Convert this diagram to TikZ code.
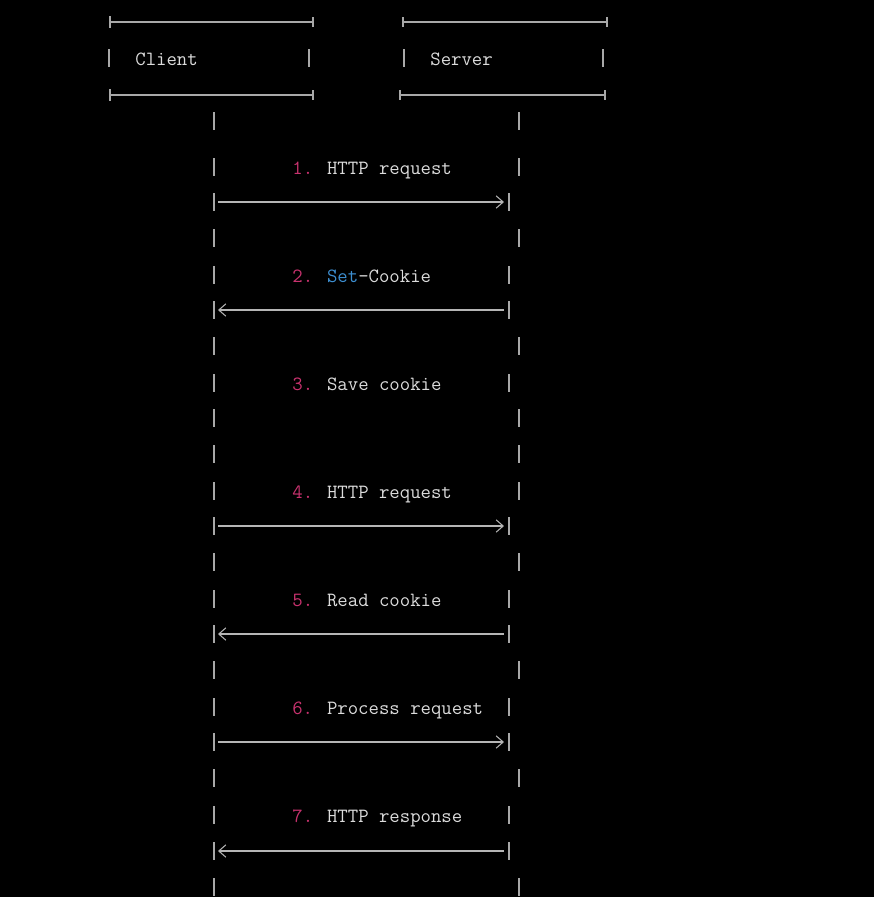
\documentclass[tikz,border=0pt]{standalone}
\usetikzlibrary{arrows.meta, positioning}

\definecolor{termbg}{HTML}{000000}
\definecolor{termtext}{HTML}{DCDCDC}
\definecolor{termline}{HTML}{A8A8A8}
\definecolor{stepred}{HTML}{C8326E}
\definecolor{keyblue}{HTML}{3D8FD1}

\tikzset{
  vbar/.style={draw=termline, line width=0.8pt},
  hrule/.style={draw=termline, line width=0.6pt},
  msg/.style={draw=termline!85, line width=0.6pt, -{Straight Barb[length=4pt, width=7pt]}},
  termlabel/.style={text=termtext, font=\ttfamily\fontsize{11.5}{13}\selectfont, anchor=base west, inner sep=0pt},
}
\newcommand{\stepno}[1]{\textcolor{stepred}{#1.}}

\begin{document}
\begin{tikzpicture}[x=0.02cm, y=-0.02cm]
		% Background
		\fill[termbg] (0,0) rectangle (874,897);
		\useasboundingbox (0,0) rectangle (874,897);
		
		% Header boxes
		\draw[hrule] (110,22) -- (313,22);
		\draw[hrule] (110,95) -- (313,95);
		\draw[hrule] (403,22) -- (607,22);
		\draw[hrule] (400,95) -- (605,95);
		\draw[hrule, line width=0.9pt] (110,16) -- (110,28);
		\draw[hrule, line width=0.9pt] (110,89) -- (110,101);
		\foreach \x/\y in {313/22, 313/95, 403/22, 607/22, 400/95, 605/95}
			\draw[hrule] (\x,\y-5) -- (\x,\y+5);
		\foreach \x in {109, 309, 404, 603}
			\draw[vbar] (\x,49) -- (\x,67);
		\node[termlabel] (client) at (135,65) {Client};
		\node[termlabel] (server) at (430,65) {Server};
		
		% Lifelines
		\foreach \y in {121,167,202,238,275,310,346,383,418,454,491,526,562,599,634,670,707,742,778,815,851,887}
			\draw[vbar] (214,\y-9) -- (214,\y+9);
		\foreach \y in {121,167,238,346,418,454,491,562,670,778,887}
			\draw[vbar] (519,\y-9) -- (519,\y+9);
		\foreach \y in {202,275,310,383,526,599,634,707,742,815,851}
			\draw[vbar] (509,\y-9) -- (509,\y+9);
		
		% Steps
		\node[termlabel] (step1) at (292,174) {\stepno{1} HTTP request};
		\node[termlabel] (step2) at (292,282) {\stepno{2} \textcolor{keyblue}{Set}-Cookie};
		\node[termlabel] (step3) at (292,390) {\stepno{3} Save cookie};
		\node[termlabel] (step4) at (292,498) {\stepno{4} HTTP request};
		\node[termlabel] (step5) at (292,606) {\stepno{5} Read cookie};
		\node[termlabel] (step6) at (292,714) {\stepno{6} Process request};
		\node[termlabel] (step7) at (292,822) {\stepno{7} HTTP response};
		
		% Message ends
		\coordinate (c1) at (218,202); \coordinate (s1) at (504,202);
		\coordinate (c2) at (218,310); \coordinate (s2) at (504,310);
		\coordinate (c4) at (218,526); \coordinate (s4) at (504,526);
		\coordinate (c5) at (218,634); \coordinate (s5) at (504,634);
		\coordinate (c6) at (218,742); \coordinate (s6) at (504,742);
		\coordinate (c7) at (218,851); \coordinate (s7) at (504,851);
		
		% Messages
		\draw[msg] (c1) -- (s1);
		\draw[msg] (s2) -- (c2);
		\draw[msg] (c4) -- (s4);
		\draw[msg] (s5) -- (c5);
		\draw[msg] (c6) -- (s6);
		\draw[msg] (s7) -- (c7);
	\end{tikzpicture}
\end{document}
